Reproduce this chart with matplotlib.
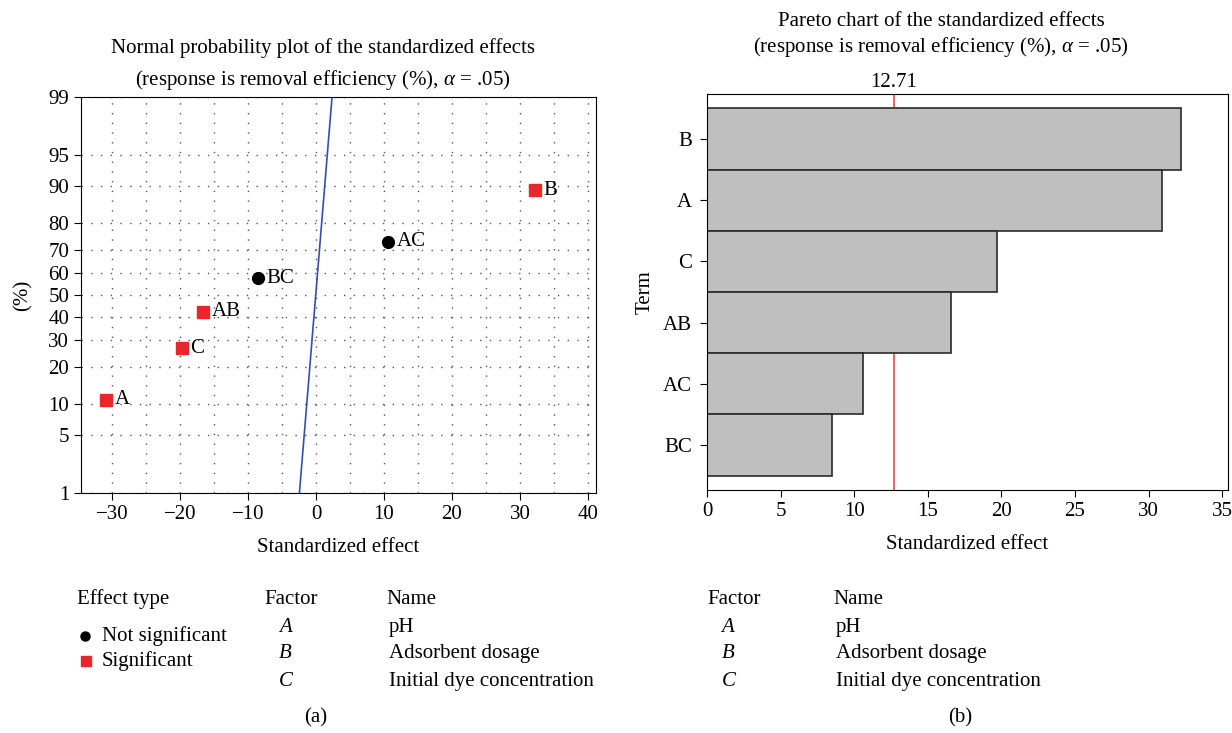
import numpy as np
import matplotlib
matplotlib.use("Agg")
import matplotlib.pyplot as plt
from matplotlib.lines import Line2D
from statistics import NormalDist

# Normal probability plot data (effect, cumulative percent)
terms = ["A", "B", "C", "AB", "AC", "BC"]
effects = [-30.9, 32.2, -19.7, -16.6, 10.6, -8.5]
percent = [10.9, 89.1, 26.6, 42.2, 73.4, 57.8]
significant = [True, True, True, True, False, False]

# fitted reference line
fit_x = [-2.45, 2.35]
fit_p = [1, 99]

# Pareto chart data
pareto_terms = ["B", "A", "C", "AB", "AC", "BC"]
pareto_effects = [32.2, 30.9, 19.7, 16.6, 10.6, 8.5]
critical = 12.71

prob_ticks = [1, 5, 10, 20, 30, 40, 50, 60, 70, 80, 90, 95, 99]
factors = ["A", "B", "C"]
factor_names = ["pH", "Adsorbent dosage", "Initial dye concentration"]

plt.rcParams["font.family"] = ["Liberation Serif", "DejaVu Serif"]
plt.rcParams["mathtext.fontset"] = "custom"
plt.rcParams["mathtext.rm"] = "Liberation Serif"
plt.rcParams["mathtext.it"] = "Liberation Serif:italic"
FS = 15

nd = NormalDist()
_ppf = np.vectorize(lambda v: nd.inv_cdf(v / 100.0), otypes=[float])
_cdf = np.vectorize(lambda v: nd.cdf(v) * 100.0, otypes=[float])


def _fwd(p):
    p = np.clip(np.asarray(p, dtype=float), 1e-6, 100 - 1e-6)
    return _ppf(p)


def _inv(z):
    return _cdf(np.asarray(z, dtype=float))


fig = plt.figure(figsize=(12.32, 7.33), dpi=100)

# ---- (a) normal probability plot
ax1 = fig.add_axes([0.0657, 0.3274, 0.4181, 0.5403])
ax1.set_yscale("function", functions=(_fwd, _inv))
ax1.set_ylim(1, 99)
ax1.set_xlim(-34.6, 41.2)
ax1.set_yticks(prob_ticks)
ax1.set_yticklabels([str(t) for t in prob_ticks])
ax1.yaxis.set_minor_locator(matplotlib.ticker.NullLocator())
ax1.set_xticks(np.arange(-30, 41, 10))
ax1.set_xticks(np.arange(-25, 40, 10), minor=True)
ax1.grid(True, which="both", axis="x", color="#555555", linestyle=(0, (1, 6)), linewidth=1)
ax1.grid(True, which="major", axis="y", color="#555555", linestyle=(0, (1, 6)), linewidth=1)
ax1.tick_params(which="both", direction="out", length=5, labelsize=FS)
ax1.tick_params(which="minor", length=0)

ax1.plot(fit_x, fit_p, color="#3050b0", linewidth=1.2, zorder=2)
for t, x, p, s in zip(terms, effects, percent, significant):
    if s:
        ax1.plot(x, p, "s", color="#e8262b", markersize=8.5, zorder=3)
    else:
        ax1.plot(x, p, "o", color="black", markersize=8.5, zorder=3)
    ax1.annotate(t, (x, p), xytext=(6, 0), textcoords="offset points",
                 ha="left", va="center", fontsize=FS)

ax1.set_xlabel("Standardized effect", fontsize=FS, labelpad=10)
ax1.set_ylabel("(%)", fontsize=FS, labelpad=11)
fig.text(0.262, 0.9345, "Normal probability plot of the standardized effects",
         ha="center", va="center", fontsize=FS)
fig.text(0.262, 0.891, r"(response is removal efficiency (%), $\it{\alpha}$ = .05)",
         ha="center", va="center", fontsize=FS)

# ---- (b) pareto chart
ax2 = fig.add_axes([0.5739, 0.3315, 0.4229, 0.5403])
pos = np.arange(len(pareto_terms))[::-1]
ax2.barh(pos, pareto_effects, height=1.0, color="#bfbfbf", edgecolor="#2a2a2a",
         linewidth=1.2, zorder=2)
ax2.axvline(critical, color="#e8474c", linewidth=1.2, zorder=1)
ax2.set_xlim(0, 35.4)
ax2.set_ylim(-0.735, len(pareto_terms) - 1 + 0.735)
ax2.set_yticks(pos)
ax2.set_yticklabels(pareto_terms)
ax2.set_xticks(np.arange(0, 36, 5))
ax2.tick_params(direction="out", length=5, labelsize=FS)
ax2.tick_params(axis="y", pad=6)
ax2.set_xlabel("Standardized effect", fontsize=FS, labelpad=10)
ax2.set_ylabel("Term", fontsize=FS, labelpad=6)
ax2.text(critical, 1.005, f"{critical:.2f}", transform=ax2.get_xaxis_transform(),
         ha="center", va="bottom", fontsize=FS)
fig.text(0.764, 0.971, "Pareto chart of the standardized effects",
         ha="center", va="center", fontsize=FS)
fig.text(0.764, 0.936, r"(response is removal efficiency (%), $\it{\alpha}$ = .05)",
         ha="center", va="center", fontsize=FS)

# ---- legends below the plots
fig.text(0.0625, 0.1828, "Effect type", ha="left", va="center", fontsize=FS)
fig.add_artist(Line2D([0.069], [0.1323], marker="o", color="black", markersize=6.5,
                      linestyle="none", transform=fig.transFigure))
fig.add_artist(Line2D([0.0698], [0.0982], marker="s", color="#e8262b", markersize=6.5,
                      linestyle="none", transform=fig.transFigure))
fig.text(0.0828, 0.1323, "Not significant", ha="left", va="center", fontsize=FS)
fig.text(0.0828, 0.0982, "Significant", ha="left", va="center", fontsize=FS)

rows_y = [0.1433, 0.1078, 0.0709]
for fx, lx, nx in [(0.2143, 0.2265, 0.3157), (0.5739, 0.5857, 0.6786)]:
    fig.text(fx, 0.1828, "Factor", ha="left", va="center", fontsize=FS)
    fig.text(nx - 0.002, 0.1828, "Name", ha="left", va="center", fontsize=FS)
    for f, n, y in zip(factors, factor_names, rows_y):
        fig.text(lx, y, f, ha="left", va="center", fontsize=FS, style="italic")
        fig.text(nx, y, n, ha="left", va="center", fontsize=FS)

fig.text(0.2565, 0.0205, "(a)", ha="center", va="center", fontsize=FS)
fig.text(0.779, 0.0205, "(b)", ha="center", va="center", fontsize=FS)

fig.savefig("out.png", dpi=100)
